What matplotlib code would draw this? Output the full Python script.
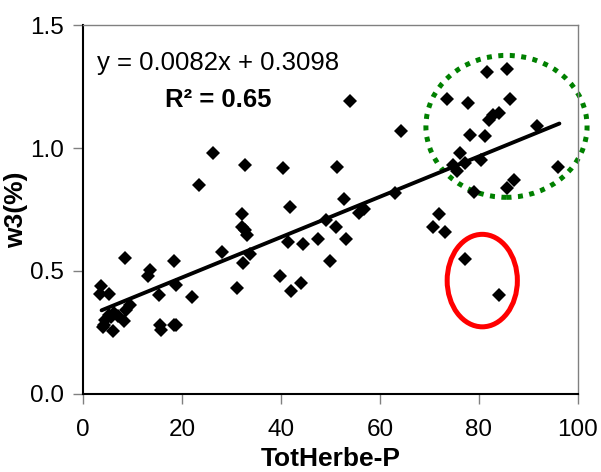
import matplotlib
matplotlib.use("Agg")
import matplotlib.pyplot as plt
from matplotlib.patches import Ellipse
import numpy as np

plt.rcParams['font.family'] = ['Liberation Sans', 'DejaVu Sans']

# data
tot_herbe = [3.6, 3.4, 5.2, 4.2, 5.2, 6.2, 6.1, 7.1, 8.3, 8.7, 9.5, 8.5, 4.4, 5.7, 4.0,
             13.0, 13.5, 15.3, 15.5, 15.8, 18.4, 18.8, 18.4, 18.8, 21.9,
             23.4, 26.2, 28.1, 31.1, 32.1, 32.1, 32.8, 32.8, 33.2, 32.4, 33.7,
             39.8, 40.4, 41.5, 41.9, 42.1, 44.0, 44.4, 47.5, 49.1, 50.0,
             51.4, 51.2, 52.8, 53.2, 53.9, 55.7, 56.8, 63.0, 64.2,
             70.7, 72.0, 73.1, 73.5, 74.7, 75.5, 76.2, 77.3, 77.3, 77.9, 78.2,
             79.0, 80.5, 81.3, 81.7, 82.1, 82.8, 84.0, 84.0, 85.7, 85.7, 86.3,
             87.1, 91.8, 96.0]
w3 = [0.441, 0.405, 0.405, 0.282, 0.322, 0.329, 0.257, 0.318, 0.298, 0.342, 0.363, 0.551, 0.301, 0.314, 0.274,
      0.481, 0.505, 0.401, 0.282, 0.261, 0.282, 0.282, 0.539, 0.444, 0.393,
      0.850, 0.979, 0.579, 0.430, 0.731, 0.677, 0.929, 0.667, 0.647, 0.532, 0.569,
      0.481, 0.918, 0.617, 0.762, 0.420, 0.451, 0.609, 0.629, 0.708, 0.539,
      0.921, 0.678, 0.792, 0.629, 1.193, 0.735, 0.751, 0.819, 1.069,
      0.677, 0.731, 0.658, 1.201, 0.931, 0.908, 0.979, 0.938, 0.548, 1.182, 1.053,
      0.823, 0.952, 1.050, 1.310, 1.114, 1.134, 1.141, 0.401, 1.320, 0.839, 1.199,
      0.870, 1.091, 0.921]

slope = 0.0082
intercept = 0.3098
r2 = 0.65

fig = plt.figure(figsize=(6.01, 4.72), dpi=100)
ax = fig.add_axes([0.1386, 0.1653, 0.8226, 0.7817])

ax.plot(tot_herbe, w3, 'D', color='black', markersize=7, markeredgewidth=0)

# trend line
xs = np.array([3.7, max(tot_herbe) + 0.3])
ax.plot(xs, slope * xs + intercept, color='black', lw=2.8, solid_capstyle='round')

# highlight ellipses
green = Ellipse((85.6, 1.088), 32.6, 0.577, fill=False, edgecolor='#008000',
                lw=3.6, linestyle=(0, (1, 1.3)), clip_on=False)
green.set_capstyle('butt')
ax.add_patch(green)
red = Ellipse((80.7, 0.461), 14.2, 0.376, fill=False, edgecolor='#ff0000', lw=3.6)
ax.add_patch(red)

ax.text(2.8, 1.345, 'y = 0.0082x + 0.3098', fontsize=18.5, va='center')
ax.text(16.5, 1.195, 'R² = 0.65', fontsize=18.5, fontweight='bold', va='center')

ax.set_xlim(0, 100)
ax.set_ylim(0, 1.5)
ax.set_xticks([0, 20, 40, 60, 80, 100])
ax.set_yticks([0.0, 0.5, 1.0, 1.5])
ax.set_yticklabels(['0.0', '0.5', '1.0', '1.5'])
ax.tick_params(axis='both', labelsize=17.5, color='#808080', length=7, width=1)
ax.tick_params(axis='x', pad=11)
ax.tick_params(axis='y', pad=7)

for side in ['left', 'bottom']:
    ax.spines[side].set_linewidth(1.5)
    ax.spines[side].set_color('black')
for side in ['top', 'right']:
    ax.spines[side].set_linewidth(1)
    ax.spines[side].set_color('#808080')

ax.set_xlabel('TotHerbe-P', fontsize=19, fontweight='bold', labelpad=4)
ax.set_ylabel('w3(%)', fontsize=19, fontweight='bold', labelpad=1)

fig.savefig('out.png', dpi=100)
